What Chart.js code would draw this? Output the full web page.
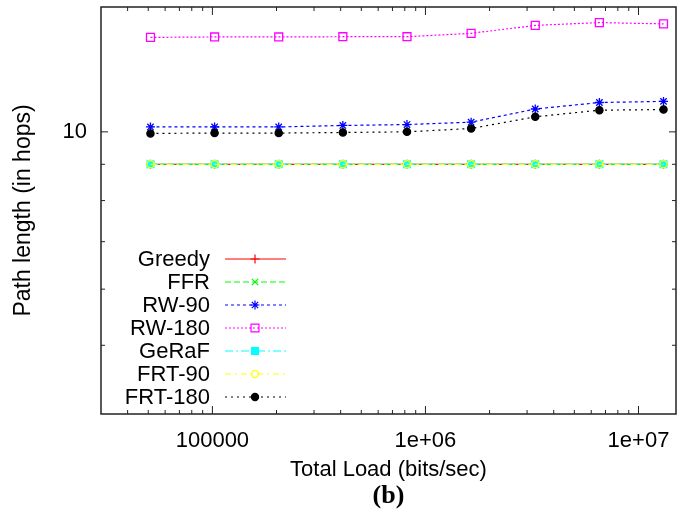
<!DOCTYPE html>
<html>
<head>
<meta charset="utf-8">
<script src="https://cdn.jsdelivr.net/npm/chart.js@4/dist/chart.umd.min.js"></script>
<style>
  html, body { margin: 0; padding: 0; background: #fff; }
</style>
</head>
<body>
<canvas id="hopsChart" width="677" height="517"></canvas>
<script>
// total load values (bits/sec), doubling each step
const loads = [51200, 102400, 204800, 409600, 819200, 1638400, 3276800, 6553600, 13107200];

// path length in hops per scheme
const greedy = [9.0, 9.0, 9.0, 9.0, 9.0, 9.0, 9.0, 9.0, 9.0];
const ffr = [9.0, 9.0, 9.0, 9.0, 9.0, 9.0, 9.0, 9.0, 9.0];
const rw90 = [10.16, 10.16, 10.16, 10.21, 10.24, 10.32, 10.77, 11.00, 11.04];
const rw180 = [13.59, 13.61, 13.61, 13.62, 13.62, 13.77, 14.13, 14.26, 14.20];
const geraf = [9.0, 9.0, 9.0, 9.0, 9.0, 9.0, 9.0, 9.0, 9.0];
const frt90 = [9.0, 9.0, 9.0, 9.0, 9.0, 9.0, 9.0, 9.0, 9.0];
const frt180 = [9.95, 9.96, 9.96, 9.98, 10.0, 10.11, 10.50, 10.73, 10.75];

const xTickValues = [1e5, 1e6, 1e7];
const xTickLabels = ['100000', '1e+06', '1e+07'];
const yTickValues = [10];
const yTickLabels = ['10'];

const FONT = 'Liberation Sans, Arial, Helvetica, sans-serif';

const series = [
    { label: 'Greedy', data: greedy, color: '#ff0000', dash: [], style: 'cross', radius: 4.5, fill: false },
    { label: 'FFR', data: ffr, color: '#00ff00', dash: [6, 3], style: 'crossRot', radius: 4.5, fill: false },
    { label: 'RW-90', data: rw90, color: '#0000ff', dash: [3, 3], style: 'star', radius: 4.5, fill: false },
    { label: 'RW-180', data: rw180, color: '#ff00ff', dash: [2, 2], style: 'rect', radius: 5.6, fill: false },
    { label: 'GeRaF', data: geraf, color: '#00ffff', dash: [8, 3, 2, 3], style: 'rect', radius: 4.8, fill: true },
    { label: 'FRT-90', data: frt90, color: '#ffff00', dash: [6, 4, 2, 4], style: 'circle', radius: 3.6, fill: false },
    { label: 'FRT-180', data: frt180, color: '#000000', dash: [2, 4], style: 'circle', radius: 3.6, fill: true },
];

// gnuplot style frame with inward ticks on all sides + key at lower left
const framePlugin = {
    id: 'frame',
    afterDraw(chart) {
        const ctx = chart.ctx;
        const a = chart.chartArea;
        const xs = chart.scales.x;
        const ys = chart.scales.y;
        ctx.save();
        ctx.strokeStyle = '#222';
        ctx.lineWidth = 1.5;
        ctx.setLineDash([]);
        ctx.strokeRect(a.left, a.top, a.right - a.left, a.bottom - a.top);

        ctx.lineWidth = 1;
        const tickX = (v, len) => {
            const px = xs.getPixelForValue(v);
            ctx.beginPath();
            ctx.moveTo(px, a.bottom); ctx.lineTo(px, a.bottom - len);
            ctx.moveTo(px, a.top); ctx.lineTo(px, a.top + len);
            ctx.stroke();
        };
        const tickY = (v, len) => {
            const py = ys.getPixelForValue(v);
            ctx.beginPath();
            ctx.moveTo(a.left, py); ctx.lineTo(a.left + len, py);
            ctx.moveTo(a.right, py); ctx.lineTo(a.right - len, py);
            ctx.stroke();
        };
        for (let d = 1e4; d <= 1e7; d *= 10) {
            for (let k = 2; k <= 9; k++) {
                const v = k * d;
                if (v > xs.min && v < xs.max) tickX(v, 4);
            }
        }
        xTickValues.forEach(v => tickX(v, 8));
        for (let k = 2; k <= 9; k++) {
            if (k > ys.min && k < ys.max) tickY(k, 4);
        }
        yTickValues.forEach(v => tickY(v, 7));

        // key
        const rowY = [259, 282, 305, 328, 351, 374, 397];
        ctx.font = '22px ' + FONT;
        ctx.textAlign = 'right';
        ctx.textBaseline = 'middle';
        series.forEach((s, i) => {
            const y = rowY[i];
            ctx.fillStyle = '#000';
            ctx.fillText(s.label, 210, y + 1);
            ctx.strokeStyle = s.color;
            ctx.lineWidth = 1.2;
            ctx.setLineDash(s.dash);
            ctx.beginPath();
            ctx.moveTo(225, y); ctx.lineTo(286, y);
            ctx.stroke();
            ctx.setLineDash([]);
            ctx.fillStyle = s.fill ? s.color : 'rgba(0,0,0,0)';
            Chart.helpers.drawPoint(ctx, { pointStyle: s.style, rotation: 0, radius: s.radius, borderWidth: 1.3 }, 255, y);
        });
        ctx.restore();
    }
};

new Chart(document.getElementById('hopsChart'), {
    type: 'line',
    data: {
        labels: loads,
        datasets: series.map((s, i) => ({
            label: s.label,
            data: loads.map((x, j) => ({ x: x, y: s.data[j] })),
            borderColor: s.color,
            backgroundColor: s.fill ? s.color : 'rgba(0,0,0,0)',
            pointBackgroundColor: s.fill ? s.color : 'rgba(0,0,0,0)',
            pointBorderColor: s.color,
            borderWidth: 1.2,
            borderDash: s.dash,
            pointStyle: s.style,
            pointRadius: s.radius,
            pointBorderWidth: 1.3,
            tension: 0,
            fill: false,
            clip: false,
            order: series.length - i,
        }))
    },
    options: {
        responsive: false,
        animation: false,
        devicePixelRatio: 1,
        layout: { autoPadding: false, padding: { top: 7, right: 1, left: 0, bottom: 0 } },
        plugins: {
            legend: { display: false },
            tooltip: { enabled: false },
            title: {
                display: true,
                position: 'bottom',
                fullSize: false,
                text: '(b)',
                color: '#000',
                font: { family: 'Liberation Serif, Times New Roman, serif', size: 26, weight: 'bold', lineHeight: 1 },
                padding: { top: 0, bottom: 8 },
            },
        },
        scales: {
            x: {
                type: 'logarithmic',
                min: 30000,
                max: 15000000,
                grid: { display: false, drawTicks: false },
                border: { display: false },
                afterBuildTicks: (scale) => { scale.ticks = xTickValues.map(v => ({ value: v })); },
                afterFit: (scale) => {
                    scale.height = 69;
                    scale.paddingLeft = 0;
                    scale.paddingRight = 0;
                },
                ticks: {
                    autoSkip: false,
                    maxRotation: 0,
                    padding: 14,
                    color: '#000',
                    font: { family: FONT, size: 22 },
                    callback: (v, i) => xTickLabels[i],
                },
                title: {
                    display: true,
                    text: 'Total Load (bits/sec)',
                    color: '#000',
                    font: { family: FONT, size: 22 },
                    padding: { top: 0, bottom: 0 },
                },
            },
            y: {
                type: 'logarithmic',
                min: 4,
                max: 15,
                grid: { display: false, drawTicks: false },
                border: { display: false },
                afterBuildTicks: (scale) => { scale.ticks = yTickValues.map(v => ({ value: v })); },
                afterFit: (scale) => {
                    scale.width = 101;
                    scale.paddingTop = 0;
                    scale.paddingBottom = 0;
                },
                ticks: {
                    padding: 14,
                    color: '#000',
                    font: { family: FONT, size: 22 },
                    callback: (v, i) => yTickLabels[i],
                },
                title: {
                    display: true,
                    text: 'Path length (in hops)',
                    color: '#000',
                    font: { family: FONT, size: 23 },
                    padding: { top: 10, bottom: 10 },
                },
            },
        },
    },
    plugins: [framePlugin],
});
</script>
</body>
</html>
